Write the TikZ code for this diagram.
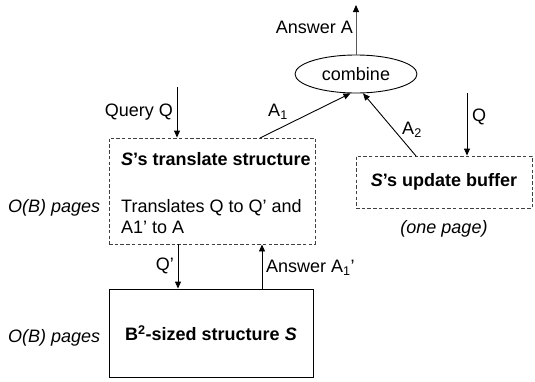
\documentclass[tikz,border=0pt]{standalone}
\usepackage{fontspec}
\setmainfont{Liberation Sans}
\usetikzlibrary{arrows.meta,shapes.geometric}
\begin{document}
\begin{tikzpicture}[x=1pt,y=-1pt,
  every node/.style={font=\fontsize{18}{21}\selectfont, inner sep=0pt},
  arr/.style={line width=0.9pt, -{Triangle[length=7pt,width=6pt]}},
  grayarr/.style={line width=0.9pt, draw=black!65, -{Triangle[length=7pt,width=6pt,color=black]}},
  dbox/.style={draw=black!75, line width=0.9pt, dash pattern=on 3.5pt off 2.2pt, rectangle},
  sbox/.style={draw=black, line width=0.9pt, rectangle}]
\useasboundingbox (0,0) rectangle (535,381);
% nodes
\node[draw, ellipse, line width=0.9pt, minimum width=122pt, minimum height=38pt] (combine) at (356,74) {combine};
\node[dbox, minimum width=206pt, minimum height=106pt] (trans) at (212,191) {};
\node[dbox, minimum width=176pt, minimum height=52pt] (upd) at (444,182) {\textbf{\textit{S}'s update buffer}};
\node[sbox, minimum width=204pt, minimum height=88pt] (bot) at (211,333) {\textbf{B\textsuperscript{2}-sized structure \textit{S}}};
% texts inside translate box
\node[anchor=base west] (ttitle) at (121,165) {\textbf{\textit{S}'s translate structure}};
\node[anchor=base west] (tl1) at (121,212) {Translates Q to Q' and};
\node[anchor=base west] (tl2) at (121,233) {A1' to A};
% side labels
\node[anchor=base west] (ob1) at (8,212) {\textit{O(B) pages}};
\node[anchor=base west] (ob2) at (8,342) {\textit{O(B) pages}};
\node[anchor=base] (onepage) at (444,233) {\textit{(one page)}};
% coordinates
\coordinate (atop) at (356,5);
\coordinate (qtop) at (177,87);
\coordinate (qrtop) at (467,93);
\coordinate (a1s) at (260,138);
\coordinate (a2s) at (416,156);
\coordinate (qp) at (178,244);
\coordinate (ap) at (262,289);
% connectors
\draw[grayarr] (combine.north) -- (atop);
\node[anchor=base east] (lansA) at (353,33) {Answer A};
\draw[arr] (qtop) -- (qtop |- trans.north);
\node[anchor=east] (lquery) at (173,112) {Query Q};
\draw[arr] (a1s) -- (combine.254);
\node (la1) at (278,112) {A\textsubscript{1}};
\draw[arr] (a2s) -- (combine.290);
\node (la2) at (412,130) {A\textsubscript{2}};
\draw[arr] (qrtop) -- (qrtop |- upd.north);
\node[anchor=west] (lq) at (472,117) {Q};
\draw[arr] (qp) -- (qp |- bot.north);
\node[anchor=east] (lqp) at (174,266) {Q'};
\draw[arr] (ap) -- (ap |- trans.south);
\node[anchor=west] (lap) at (266,268) {Answer A\textsubscript{1}'};
\end{tikzpicture}
\end{document}
